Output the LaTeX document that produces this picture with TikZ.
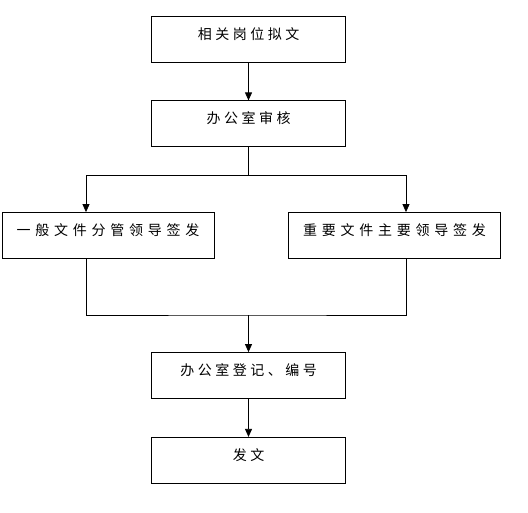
\documentclass[tikz,border=0pt]{standalone}
\usepackage{fontspec}
\newfontfamily\cjk{Noto Sans CJK SC}[LetterSpace=25]
\usepackage{tikz}
\usetikzlibrary{arrows.meta, positioning}

\begin{document}
\begin{tikzpicture}[
    x=1pt, y=1pt,
    font=\cjk\fontsize{14}{16}\selectfont,
    line width=0.8pt,
    box/.style={rectangle, draw=black, minimum width=194pt, minimum height=46pt, text height=10pt, text depth=10pt, inner sep=2pt},
    widebox/.style={box, minimum width=212pt, font=\cjk\fontsize{14}{16}\selectfont\addfontfeatures{LetterSpace=34}},
    arr/.style={-{Triangle[length=8pt, width=7pt]}},
]
\useasboundingbox (0,0) rectangle (528,-512);

\node[box] (draft) at (248.5,-39) {相关岗位拟文};
\node[box, below=38pt of draft] (review) {办公室审核};
\node[widebox] (general) at (108,-235.5) {一般文件分管领导签发};
\node[widebox] (important) at (394.5,-235.5) {重要文件主要领导签发};
\node[box] (register) at (248.5,-375.5) {办公室登记、编号};
\node[box, below=38pt of register] (issue) {发文};

% branch points, off the box centres as in the sketch
\coordinate (split) at (review.south |- 0,-175);
\coordinate (merge) at (review.south |- 0,-315);
\coordinate (genin) at ([xshift=-22pt]general.north);
\coordinate (genout) at ([xshift=-22pt]general.south);
\coordinate (impin) at ([xshift=11.5pt]important.north);
\coordinate (impout) at ([xshift=11.5pt]important.south);

\draw[arr] (draft) -- (review);
\draw (review.south) -- (split);
\draw[arr] (split) -| (genin);
\draw[arr] (split) -| (impin);
\draw (genout) |- (merge) -| (impout);
\draw[arr] (merge) -- (register);
\draw[arr] (register) -- (issue);

\end{tikzpicture}
\end{document}
